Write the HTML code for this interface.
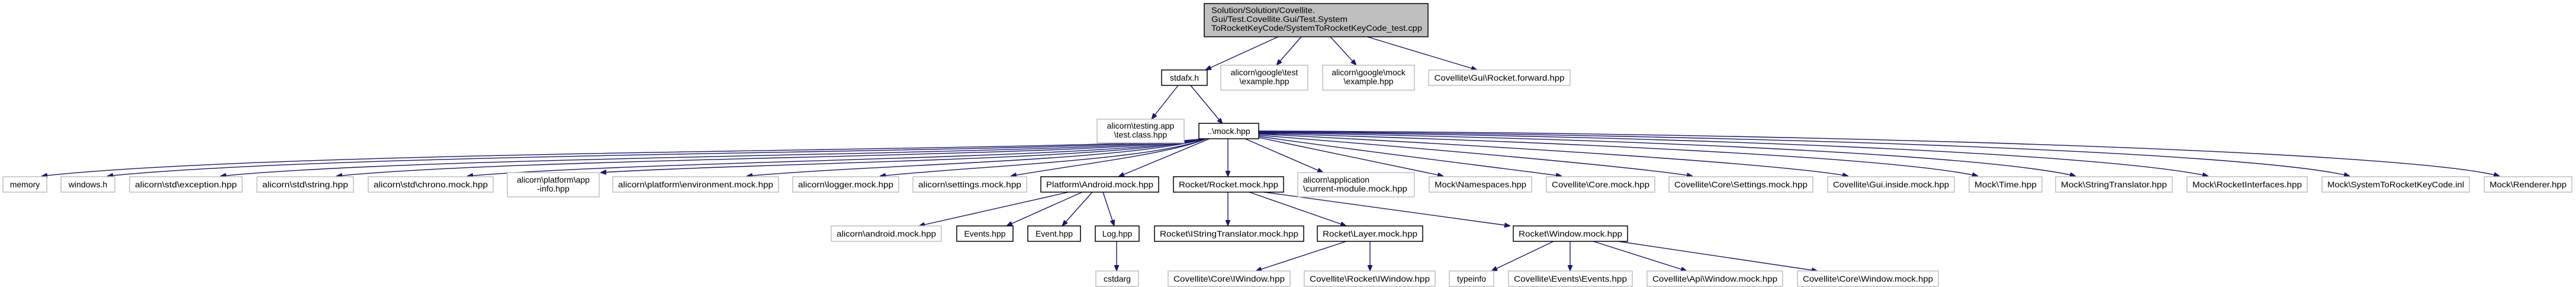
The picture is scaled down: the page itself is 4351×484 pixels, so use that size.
<!DOCTYPE html>
<html><head><meta charset="utf-8"><style>
html,body{margin:0;padding:0;background:#fff;}
svg{display:block;}
text{font-family:"Liberation Sans",sans-serif;font-size:14px;fill:#000;}
.g{fill:#fff;stroke:#bfbfbf;stroke-width:1.5;}
.b{fill:#fff;stroke:#000;stroke-width:1.5;}
.e{fill:none;stroke:#191970;stroke-width:1.4;}
</style></head><body>
<svg width="4351" height="484" viewBox="0 0 4351 484" xmlns="http://www.w3.org/2000/svg">
<defs>
<marker id="a" markerWidth="10" markerHeight="8" refX="10" refY="4" orient="auto" markerUnits="userSpaceOnUse">
<path d="M0,0 L10,4 L0,8 z" fill="#191970" stroke="#191970"/>
</marker>
</defs>

<!-- edges -->
<g class="e" marker-end="url(#a)">
<path d="M2159,62 L2036,118"/>
<path d="M2198,62 L2156,110"/>
<path d="M2247,62 L2291,110"/>
<path d="M2309,62 L2495,118"/>
<path d="M1990,144 L1945,201"/>
<path d="M2011,144 L2065,209"/>
<path d="M2043,234 L1889,298"/>
<path d="M2074,234 L2074,298"/>
<path d="M2103,234 L2235,291"/>
<!-- left curves -->
<path d="M2040,233 C1900,256 500,250 70,297"/>
<path d="M2040,233 C1900,259 600,254 181,297"/>
<path d="M2040,233 C1900,262 750,260 372,297"/>
<path d="M2040,233 C1900,265 900,264 568,297"/>
<path d="M2040,233 C1900,268 1100,270 789,297"/>
<path d="M2040,233 C1900,270 1300,274 1014,291"/>
<path d="M2040,233 C1900,272 1500,276 1261,297"/>
<path d="M2040,233 C1950,270 1650,280 1486,297"/>
<path d="M2040,233 C1980,260 1800,280 1707,297"/>
<!-- right curves -->
<path d="M2126,232 L2438,297"/>
<path d="M2126,230 C2300,255 2550,285 2638,297"/>
<path d="M2126,228 C2400,250 2750,280 2859,297"/>
<path d="M2126,226 C2500,245 3000,275 3122,297"/>
<path d="M2126,225 C2600,238 3200,265 3341,297"/>
<path d="M2126,224 C2700,232 3350,260 3506,297"/>
<path d="M2126,223 C2800,228 3550,258 3730,297"/>
<path d="M2126,222 C2900,226 3800,255 3969,297"/>
<path d="M2126,221 C2950,223 4050,252 4222,297"/>
<!-- lower -->
<path d="M1805,324 L1552,381"/>
<path d="M1828,324 L1700,381"/>
<path d="M1845,324 L1794,381"/>
<path d="M1863,324 L1882,381"/>
<path d="M1886,407 L1886,457"/>
<path d="M2074,324 L2074,381"/>
<path d="M2110,324 L2274,381"/>
<path d="M2135,324 L2551,381"/>
<path d="M2274,407 L2121,457"/>
<path d="M2314,407 L2314,457"/>
<path d="M2624,407 L2519,457"/>
<path d="M2652,407 L2652,457"/>
<path d="M2691,407 L2849,457"/>
<path d="M2733,407 L3070,457"/>
</g>

<!-- top node -->
<rect x="2034" y="6" width="378" height="56" fill="#bfbfbf" stroke="#000" stroke-width="1.5"/>
<text x="2046" y="22" textLength="175" lengthAdjust="spacingAndGlyphs">Solution/Solution/Covellite.</text>
<text x="2046" y="37" textLength="230" lengthAdjust="spacingAndGlyphs">Gui/Test.Covellite.Gui/Test.System</text>
<text x="2046" y="52" textLength="356" lengthAdjust="spacingAndGlyphs">ToRocketKeyCode/SystemToRocketKeyCode_test.cpp</text>

<!-- level 1 -->
<rect class="b" x="1962" y="118" width="77" height="26"/><text x="2000.5" y="136" text-anchor="middle">stdafx.h</text>
<rect class="g" x="2062" y="110" width="147" height="42"/><text x="2135.5" y="127" text-anchor="middle">alicorn\google\test</text><text x="2135.5" y="142" text-anchor="middle">\example.hpp</text>
<rect class="g" x="2234" y="110" width="155" height="42"/><text x="2311.5" y="127" text-anchor="middle">alicorn\google\mock</text><text x="2311.5" y="142" text-anchor="middle">\example.hpp</text>
<rect class="g" x="2413" y="118" width="239" height="26"/><text x="2532.5" y="136" text-anchor="middle" textLength="220" lengthAdjust="spacingAndGlyphs">Covellite\Gui\Rocket.forward.hpp</text>

<!-- level 2 -->
<rect class="g" x="1853" y="201" width="147" height="40"/><text x="1926.5" y="217" text-anchor="middle">alicorn\testing.app</text><text x="1926.5" y="232" text-anchor="middle">\test.class.hpp</text>
<rect class="b" x="2025" y="208" width="101" height="26"/><text x="2075.5" y="226" text-anchor="middle">..\mock.hpp</text>

<!-- level 3 -->
<g>
<rect class="g" x="5" y="298" width="74" height="26"/><text x="42" y="316" text-anchor="middle">memory</text>
<rect class="g" x="103" y="298" width="91" height="26"/><text x="148.5" y="316" text-anchor="middle">windows.h</text>
<rect class="g" x="219" y="298" width="190" height="26"/><text x="314" y="316" text-anchor="middle" textLength="172" lengthAdjust="spacingAndGlyphs">alicorn\std\exception.hpp</text>
<rect class="g" x="434" y="298" width="163" height="26"/><text x="515.5" y="316" text-anchor="middle" textLength="145" lengthAdjust="spacingAndGlyphs">alicorn\std\string.hpp</text>
<rect class="g" x="622" y="298" width="211" height="26"/><text x="727.5" y="316" text-anchor="middle" textLength="193" lengthAdjust="spacingAndGlyphs">alicorn\std\chrono.mock.hpp</text>
<rect class="g" x="857" y="291" width="155" height="41"/><text x="934.5" y="308" text-anchor="middle">alicorn\platform\app</text><text x="934.5" y="323" text-anchor="middle">-info.hpp</text>
<rect class="g" x="1035" y="298" width="280" height="26"/><text x="1175" y="316" text-anchor="middle" textLength="262" lengthAdjust="spacingAndGlyphs">alicorn\platform\environment.mock.hpp</text>
<rect class="g" x="1339" y="298" width="179" height="26"/><text x="1428.5" y="316" text-anchor="middle" textLength="161" lengthAdjust="spacingAndGlyphs">alicorn\logger.mock.hpp</text>
<rect class="g" x="1542" y="298" width="192" height="26"/><text x="1638" y="316" text-anchor="middle" textLength="174" lengthAdjust="spacingAndGlyphs">alicorn\settings.mock.hpp</text>
<rect class="b" x="1758" y="298" width="199" height="26"/><text x="1857.5" y="316" text-anchor="middle" textLength="181" lengthAdjust="spacingAndGlyphs">Platform\Android.mock.hpp</text>
<rect class="b" x="1982" y="298" width="186" height="26"/><text x="2075" y="316" text-anchor="middle" textLength="168" lengthAdjust="spacingAndGlyphs">Rocket/Rocket.mock.hpp</text>
<rect class="g" x="2192" y="291" width="197" height="41"/><text x="2201" y="308">alicorn\application</text><text x="2201" y="323" textLength="176" lengthAdjust="spacingAndGlyphs">\current-module.mock.hpp</text>
<rect class="g" x="2414" y="298" width="173" height="26"/><text x="2500.5" y="316" text-anchor="middle" textLength="155" lengthAdjust="spacingAndGlyphs">Mock\Namespaces.hpp</text>
<rect class="g" x="2612" y="298" width="183" height="26"/><text x="2703.5" y="316" text-anchor="middle" textLength="165" lengthAdjust="spacingAndGlyphs">Covellite\Core.mock.hpp</text>
<rect class="g" x="2819" y="298" width="243" height="26"/><text x="2940.5" y="316" text-anchor="middle" textLength="225" lengthAdjust="spacingAndGlyphs">Covellite\Core\Settings.mock.hpp</text>
<rect class="g" x="3087" y="298" width="214" height="26"/><text x="3194" y="316" text-anchor="middle" textLength="196" lengthAdjust="spacingAndGlyphs">Covellite\Gui.inside.mock.hpp</text>
<rect class="g" x="3326" y="298" width="123" height="26"/><text x="3387.5" y="316" text-anchor="middle" textLength="105" lengthAdjust="spacingAndGlyphs">Mock\Time.hpp</text>
<rect class="g" x="3472" y="298" width="197" height="26"/><text x="3570.5" y="316" text-anchor="middle" textLength="179" lengthAdjust="spacingAndGlyphs">Mock\StringTranslator.hpp</text>
<rect class="g" x="3694" y="298" width="203" height="26"/><text x="3795.5" y="316" text-anchor="middle" textLength="185" lengthAdjust="spacingAndGlyphs">Mock\RocketInterfaces.hpp</text>
<rect class="g" x="3922" y="298" width="249" height="26"/><text x="4046.5" y="316" text-anchor="middle" textLength="231" lengthAdjust="spacingAndGlyphs">Mock\SystemToRocketKeyCode.inl</text>
<rect class="g" x="4196" y="298" width="148" height="26"/><text x="4270" y="316" text-anchor="middle" textLength="130" lengthAdjust="spacingAndGlyphs">Mock\Renderer.hpp</text>
</g>

<!-- level 4 -->
<rect class="g" x="1404" y="381" width="186" height="26"/><text x="1497" y="399" text-anchor="middle" textLength="168" lengthAdjust="spacingAndGlyphs">alicorn\android.mock.hpp</text>
<rect class="b" x="1616" y="381" width="95" height="26"/><text x="1663.5" y="399" text-anchor="middle">Events.hpp</text>
<rect class="b" x="1736" y="381" width="89" height="26"/><text x="1780.5" y="399" text-anchor="middle">Event.hpp</text>
<rect class="b" x="1850" y="381" width="74" height="26"/><text x="1887" y="399" text-anchor="middle">Log.hpp</text>
<rect class="b" x="1950" y="381" width="252" height="26"/><text x="2076" y="399" text-anchor="middle" textLength="234" lengthAdjust="spacingAndGlyphs">Rocket\IStringTranslator.mock.hpp</text>
<rect class="b" x="2225" y="381" width="178" height="26"/><text x="2314" y="399" text-anchor="middle" textLength="160" lengthAdjust="spacingAndGlyphs">Rocket\Layer.mock.hpp</text>
<rect class="b" x="2556" y="381" width="193" height="26"/><text x="2652.5" y="399" text-anchor="middle" textLength="175" lengthAdjust="spacingAndGlyphs">Rocket\Window.mock.hpp</text>

<!-- level 5 -->
<rect class="g" x="1851" y="457" width="72" height="26"/><text x="1887" y="475" text-anchor="middle">cstdarg</text>
<rect class="g" x="1973" y="457" width="206" height="26"/><text x="2076" y="475" text-anchor="middle" textLength="188" lengthAdjust="spacingAndGlyphs">Covellite\Core\IWindow.hpp</text>
<rect class="g" x="2203" y="457" width="221" height="26"/><text x="2313.5" y="475" text-anchor="middle" textLength="203" lengthAdjust="spacingAndGlyphs">Covellite\Rocket\IWindow.hpp</text>
<rect class="g" x="2448" y="457" width="75" height="26"/><text x="2485.5" y="475" text-anchor="middle">typeinfo</text>
<rect class="g" x="2548" y="457" width="209" height="26"/><text x="2652.5" y="475" text-anchor="middle" textLength="191" lengthAdjust="spacingAndGlyphs">Covellite\Events\Events.hpp</text>
<rect class="g" x="2782" y="457" width="229" height="26"/><text x="2896.5" y="475" text-anchor="middle" textLength="211" lengthAdjust="spacingAndGlyphs">Covellite\Api\Window.mock.hpp</text>
<rect class="g" x="3036" y="457" width="238" height="26"/><text x="3155" y="475" text-anchor="middle" textLength="220" lengthAdjust="spacingAndGlyphs">Covellite\Core\Window.mock.hpp</text>
</svg>
</body></html>
